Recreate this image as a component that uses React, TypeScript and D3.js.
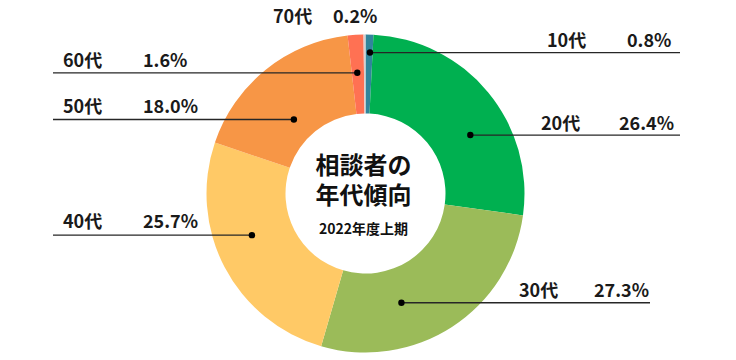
import React, { useEffect, useRef } from 'react';
import * as d3 from 'd3';

// age groups, clockwise from 12 o'clock
const ageGroups = ['10代', '20代', '30代', '40代', '50代', '60代', '70代'];
const shares = [0.8, 26.4, 27.3, 25.7, 18.0, 1.6, 0.2];
const sliceColors = ['#31859C', '#00B050', '#9BBB59', '#FFC966', '#F79646', '#FF7153', '#D9CFCF'];

const titleLines = ['相談者の', '年代傾向'];
const subTitle = '2022年度上期';

// callout layout (Excel style manual labels)
// t = where in the slice the dot sits, r = dot radius, lineEnd = far end of leader line
const callouts = [
  { t: 0.63, r: 141, lineEnd: 680, nameX: 547, valueX: 627, textY: 47 },
  { t: 0.61, r: 120, lineEnd: 680, nameX: 541, valueX: 619, textY: 130 },
  { t: 0.65, r: 115, lineEnd: 650, nameX: 519, valueX: 594, textY: 297 },
  { t: 0.58, r: 121, lineEnd: 53, nameX: 63, valueX: 143, textY: 228 },
  { t: 0.42, r: 103, lineEnd: 53, nameX: 63, valueX: 143, textY: 113 },
  { t: 0.45, r: 121, lineEnd: 53, nameX: 63, valueX: 143, textY: 67 },
  { t: 0.5, r: 0, lineEnd: null, nameX: 273, valueX: 333, textY: 23 },
];

function App() {
  const svgRef = useRef() as React.RefObject<SVGSVGElement>;

  useEffect(() => {
    document.body.style.margin = '0';

    const width = 736;
    const height = 360;
    const cx = 365.5;
    const cy = 193.5;
    const outerR = 159;
    const innerR = 80;
    const font = '"Noto Sans CJK JP", "Noto Sans", sans-serif';

    const svg = d3.select(svgRef.current)
      .attr('width', width)
      .attr('height', height)
      .style('background', '#fff');

    svg.selectAll('*').remove();

    const g = svg.append('g').attr('transform', `translate(${cx},${cy})`);

    const pie = d3.pie<number>().sort(null).value(d => d);
    const arcs = pie(shares);

    const arc = d3.arc<d3.PieArcDatum<number>>()
      .innerRadius(innerR)
      .outerRadius(outerR);

    g.selectAll('path.slice')
      .data(arcs)
      .join('path')
      .attr('class', 'slice')
      .attr('fill', (d, i) => sliceColors[i])
      .attr('d', arc);

    // leader lines + dots
    arcs.forEach((a, i) => {
      const c = callouts[i];
      if (c.lineEnd === null) return;
      const ang = a.startAngle + (a.endAngle - a.startAngle) * c.t;
      const [px, py] = d3.pointRadial(ang, c.r);
      g.append('line')
        .attr('x1', px)
        .attr('y1', py)
        .attr('x2', c.lineEnd - cx)
        .attr('y2', py)
        .attr('stroke', '#262626')
        .attr('stroke-width', 1.3);
      g.append('circle')
        .attr('cx', px)
        .attr('cy', py)
        .attr('r', 3.2)
        .attr('fill', '#000');
    });

    // labels
    const labels = svg.append('g')
      .attr('font-family', font)
      .attr('font-weight', 'bold')
      .attr('font-size', 18)
      .attr('fill', '#1a1a1a');

    ageGroups.forEach((name, i) => {
      const c = callouts[i];
      labels.append('text')
        .attr('x', c.nameX)
        .attr('y', c.textY)
        .text(name);
      labels.append('text')
        .attr('x', c.valueX)
        .attr('y', c.textY)
        .text(d3.format('.1f')(shares[i]) + '%');
    });

    // centre title
    const title = svg.append('g')
      .attr('font-family', font)
      .attr('font-weight', 'bold')
      .attr('fill', '#111')
      .attr('text-anchor', 'middle');

    titleLines.forEach((line, i) => {
      title.append('text')
        .attr('x', cx - 2)
        .attr('y', 174 + i * 30)
        .attr('font-size', 24)
        .text(line);
    });

    title.append('text')
      .attr('x', cx - 2)
      .attr('y', 234)
      .attr('font-size', 14)
      .text(subTitle);
  }, []);

  return (
    <div>
      <svg ref={svgRef} style={{ display: 'block' }}></svg>
    </div>
  );
}

export default App;
